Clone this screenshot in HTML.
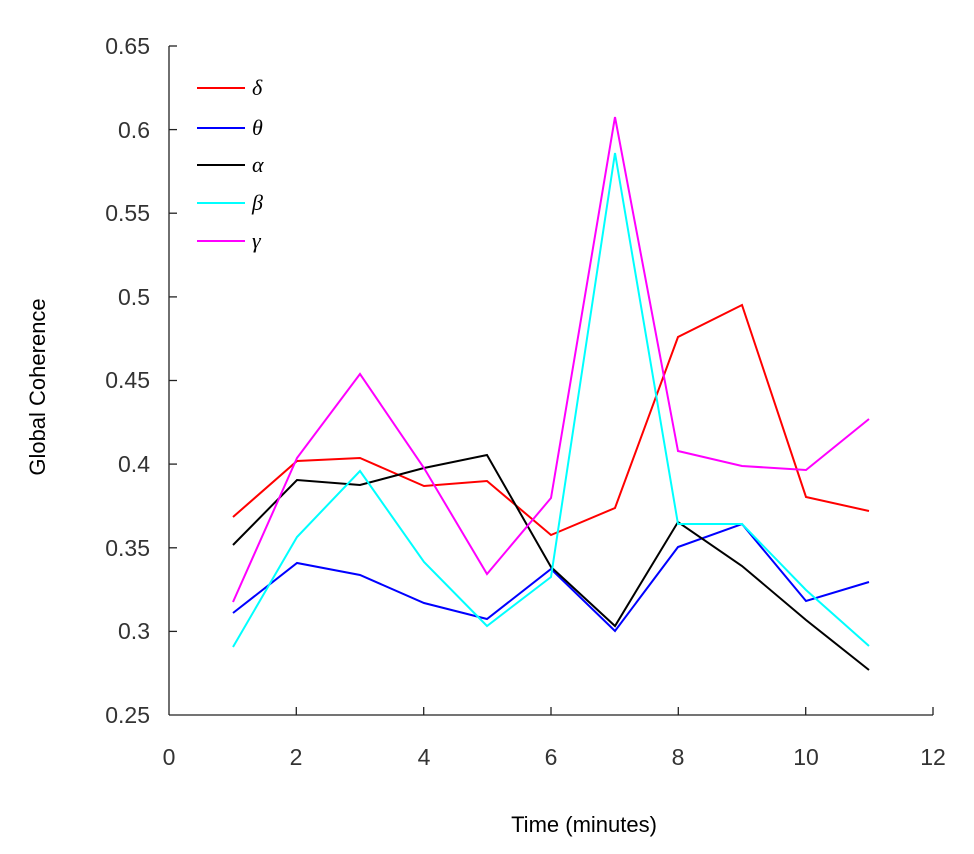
<!DOCTYPE html>
<html><head><meta charset="utf-8"><style>html,body{margin:0;padding:0;background:#fff}svg{display:block}</style></head>
<body>
<svg width="974" height="854" viewBox="0 0 974 854" xmlns="http://www.w3.org/2000/svg">
<rect width="974" height="854" fill="#fff"/>
<g stroke="#222" stroke-width="1.3" fill="none">
<line x1="169" y1="46" x2="169" y2="715"/>
<line x1="169" y1="715" x2="933" y2="715"/>
<line x1="169" y1="46" x2="177" y2="46"/><line x1="169" y1="129.6" x2="177" y2="129.6"/><line x1="169" y1="213.2" x2="177" y2="213.2"/><line x1="169" y1="296.9" x2="177" y2="296.9"/><line x1="169" y1="380.5" x2="177" y2="380.5"/><line x1="169" y1="464.1" x2="177" y2="464.1"/><line x1="169" y1="547.8" x2="177" y2="547.8"/><line x1="169" y1="631.4" x2="177" y2="631.4"/>
<line x1="296.3" y1="715" x2="296.3" y2="707"/><line x1="423.7" y1="715" x2="423.7" y2="707"/><line x1="551" y1="715" x2="551" y2="707"/><line x1="678.3" y1="715" x2="678.3" y2="707"/><line x1="805.7" y1="715" x2="805.7" y2="707"/><line x1="933" y1="715" x2="933" y2="707"/>
</g>
<g font-family="Liberation Sans, sans-serif" font-size="23" fill="#333" text-anchor="end">
<text x="150" y="54">0.65</text><text x="150" y="138">0.6</text><text x="150" y="221">0.55</text><text x="150" y="305">0.5</text><text x="150" y="388">0.45</text><text x="150" y="472">0.4</text><text x="150" y="556">0.35</text><text x="150" y="639">0.3</text><text x="150" y="723">0.25</text>
</g>
<g font-family="Liberation Sans, sans-serif" font-size="23" fill="#333" text-anchor="middle">
<text x="169" y="765">0</text><text x="296" y="765">2</text><text x="424" y="765">4</text><text x="551" y="765">6</text><text x="678" y="765">8</text><text x="806" y="765">10</text><text x="933" y="765">12</text>
</g>
<text x="584" y="832" font-family="Liberation Sans, sans-serif" font-size="22" text-anchor="middle" fill="#000">Time (minutes)</text>
<text transform="translate(45,387) rotate(-90)" font-family="Liberation Sans, sans-serif" font-size="22" text-anchor="middle" fill="#000">Global Coherence</text>
<g fill="none" stroke-width="2">
<polyline stroke="#ff0000" points="233,517 297,461 360,458 424,486 487,481 551,535 615,508 678,337 742,305 806,497 869,511"/>
<polyline stroke="#0000ff" points="233,613 297,563 360,575 424,603 487,619 551,569 615,631 678,547 742,524 806,601 869,582"/>
<polyline stroke="#000000" points="233,545 297,480 360,485 424,468 487,455 551,567 615,626 678,522 742,566 806,620 869,670"/>
<polyline stroke="#00ffff" points="233,647 297,537 360,471 424,562 487,626 551,577 615,153 678,524 742,524 806,590 869,646"/>
<polyline stroke="#ff00ff" points="233,602 297,458 360,374 424,468 487,574 551,498 615,117 678,451 742,466 806,470 869,419"/>
</g>
<g stroke-width="2">
<line x1="197" y1="88" x2="245" y2="88" stroke="#ff0000"/>
<line x1="197" y1="128" x2="245" y2="128" stroke="#0000ff"/>
<line x1="197" y1="165" x2="245" y2="165" stroke="#000"/>
<line x1="197" y1="203" x2="245" y2="203" stroke="#00ffff"/>
<line x1="197" y1="241" x2="245" y2="241" stroke="#ff00ff"/>
</g>
<g font-family="Liberation Serif, serif" font-style="italic" font-size="22" fill="#000">
<text x="252" y="95">δ</text><text x="252" y="135">θ</text><text x="252" y="172">α</text><text x="252" y="210">β</text><text x="252" y="248">γ</text>
</g>
</svg>
</body></html>
